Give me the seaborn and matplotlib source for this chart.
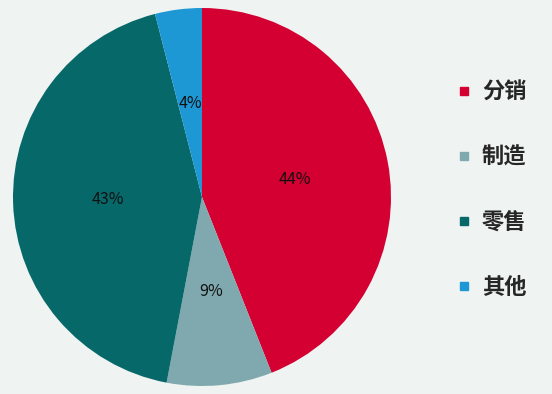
import matplotlib
matplotlib.use("Agg")
import matplotlib.pyplot as plt
import seaborn as sns
from matplotlib.lines import Line2D

# data
categories = ["分销", "制造", "零售", "其他"]
shares = [44, 9, 43, 4]
colors = ["#D40031", "#7FA9AE", "#07686A", "#1E98D5"]

sns.set_style("white")
plt.rcParams["font.family"] = ["Noto Sans CJK SC", "DejaVu Sans"]
pal = sns.color_palette(colors)

bg = "#EFF3F2"
fig = plt.figure(figsize=(5.52, 3.94), dpi=100, facecolor=bg)
ax = fig.add_axes([12 / 552, 8 / 394, 380 / 552, 378 / 394])
ax.set_facecolor(bg)

wedges, texts, autotexts = ax.pie(
    shares, colors=pal, startangle=90, counterclock=False,
    autopct=lambda p: f"{p:.0f}%", pctdistance=0.5,
    wedgeprops=dict(linewidth=0),
    textprops=dict(fontsize=11.5, color="#111111"),
)
ax.set_xlim(-1, 1)
ax.set_ylim(-1, 1)
ax.set_aspect("equal")

handles = [Line2D([0], [0], marker="s", linestyle="none", markersize=6,
                  markerfacecolor=c, markeredgecolor=c) for c in pal]
fig.legend(handles, categories, loc="center left", bbox_to_anchor=(0.825, 0.518),
           frameon=False, labelspacing=1.9, handlelength=0.75, handletextpad=0.45,
           borderaxespad=0, borderpad=0,
           prop=dict(size=16, weight="bold"))

fig.savefig("out.png", dpi=100, facecolor=bg)
